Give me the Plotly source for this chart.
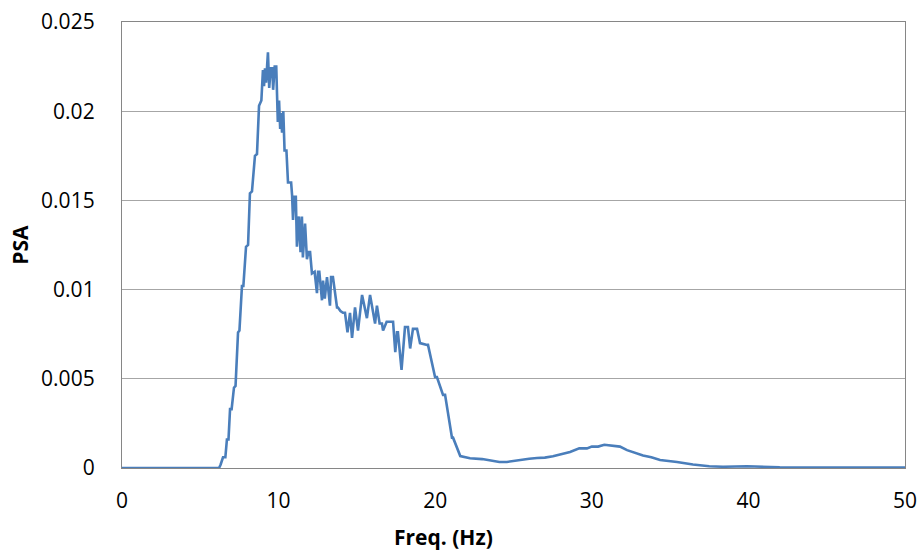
import plotly.graph_objects as go

freq = [0, 6.2, 6.3, 6.45, 6.6, 6.7, 6.8, 6.9, 7.0, 7.15, 7.25, 7.41, 7.5, 7.66, 7.75,
        7.92, 8.05, 8.17, 8.3, 8.49, 8.62, 8.75, 8.9, 9.0, 9.07, 9.13, 9.2, 9.32, 9.4,
        9.5, 9.6, 9.65, 9.75, 9.85, 9.95, 10.03, 10.1, 10.15, 10.22, 10.3, 10.38, 10.5,
        10.6, 10.8, 10.86, 10.92, 11.0, 11.1, 11.17, 11.3, 11.4, 11.49, 11.55, 11.69,
        11.81, 11.9, 12.01, 12.13, 12.3, 12.45, 12.52, 12.6, 12.77, 12.84, 12.95, 13.09,
        13.28, 13.35, 13.47, 13.73, 13.79, 13.95, 14.11, 14.24, 14.4, 14.56, 14.69,
        14.88, 15.07, 15.33, 15.64, 15.84, 16.16, 16.28, 16.45, 16.6, 16.67, 16.9,
        17.11, 17.31, 17.45, 17.56, 17.62, 17.85, 18.07, 18.26, 18.4, 18.58, 18.84,
        19.03, 19.48, 19.54, 19.99, 20.11, 20.5, 20.63, 21.07, 21.14, 21.6, 22.22,
        23.0, 23.69, 24.1, 24.58, 25.0, 25.42, 26.0, 26.5, 27.0, 27.52, 28.1, 28.61,
        29.2, 29.69, 30.0, 30.4, 30.8, 31.29, 31.8, 32.25, 32.8, 33.27, 33.8, 34.36,
        35.44, 36.46, 37.5, 38.38, 39.91, 42.0, 50]
psa = [0, 0, 0.0002, 0.0006, 0.0006, 0.0016, 0.0016, 0.0033, 0.0033, 0.0045, 0.0046,
       0.0076, 0.0077, 0.0102, 0.0102, 0.0124, 0.0125, 0.0154, 0.0155, 0.0175, 0.0176,
       0.0203, 0.0206, 0.0223, 0.0214, 0.0224, 0.0216, 0.0233, 0.0213, 0.0224, 0.0224,
       0.0212, 0.0225, 0.0225, 0.0194, 0.0206, 0.0190, 0.0199, 0.0188, 0.0200, 0.0178,
       0.0178, 0.0160, 0.0160, 0.0153, 0.0139, 0.0152, 0.0152, 0.0124, 0.0141, 0.0121,
       0.0141, 0.0118, 0.0137, 0.0117, 0.0121, 0.0121, 0.0109, 0.0110, 0.0098, 0.0110,
       0.0110, 0.0094, 0.0105, 0.0095, 0.0107, 0.0091, 0.0107, 0.0107, 0.0090, 0.0090,
       0.0088, 0.0087, 0.0087, 0.0076, 0.0087, 0.0073, 0.0090, 0.0077, 0.0097, 0.0084,
       0.0097, 0.0081, 0.0091, 0.0081, 0.0081, 0.0077, 0.0082, 0.0082, 0.0082, 0.0065,
       0.0076, 0.0076, 0.0055, 0.0079, 0.0079, 0.0067, 0.0078, 0.0078, 0.0070, 0.0069,
       0.0069, 0.0051, 0.0051, 0.0041, 0.0041, 0.0017, 0.0017, 0.00067, 0.00055,
       0.0005, 0.00042, 0.00034, 0.00034, 0.0004, 0.00048, 0.00052, 0.00056, 0.00058,
       0.00066, 0.0008, 0.0009, 0.0011, 0.0011, 0.0012, 0.0012, 0.0013, 0.00125,
       0.0012, 0.001, 0.00084, 0.0007, 0.0006, 0.00045, 0.00034, 0.0002, 0.0001,
       0.00007, 0.0001, 0.00004, 0.00002, 0.00001]

x_ticks = [0, 10, 20, 30, 40, 50]
y_ticks = [0, 0.005, 0.01, 0.015, 0.02, 0.025]
y_tick_labels = ["0", "0.005", "0.01", "0.015", "0.02", "0.025"]

FONT = "Open Sans"
L, R, T, B = 122, 18, 22, 85

fig = go.Figure()
fig.add_trace(go.Scatter(x=freq, y=psa, mode="lines",
                         line=dict(color="#4a7ebb", width=2.6), showlegend=False))

fig.update_layout(
    width=923, height=553,
    margin=dict(l=L, r=R, t=T, b=B, autoexpand=False),
    paper_bgcolor="white", plot_bgcolor="white",
    font=dict(family=FONT, size=21, color="#000000"),
)
fig.update_xaxes(
    range=[0, 50], tickvals=x_ticks, ticktext=[str(t) for t in x_ticks],
    showgrid=False, zeroline=False, showline=True, mirror=True, automargin=False,
    linecolor="#868686", linewidth=1.3, ticks="", ticklabelstandoff=14,
    tickfont=dict(size=21),
)
fig.update_yaxes(
    range=[0, 0.025], tickvals=y_ticks, ticktext=y_tick_labels,
    showgrid=True, gridcolor="#a6a6a6", gridwidth=1,
    zeroline=True, zerolinecolor="#000000", zerolinewidth=1.3, automargin=False,
    showline=True, mirror=True, linecolor="#868686", linewidth=1.3,
    ticks="", ticklabelstandoff=22, tickfont=dict(size=21),
    title=dict(text="<b>PSA</b>", font=dict(size=21), standoff=6),
)
fig.add_annotation(text="<b>Freq. (Hz)</b>", xref="paper", yref="paper",
                   x=(443 - L) / (923 - L - R), y=-(537 - 468) / (553 - T - B),
                   xanchor="center", yanchor="middle", showarrow=False,
                   font=dict(size=21, family=FONT))

fig.write_html("out.html")
